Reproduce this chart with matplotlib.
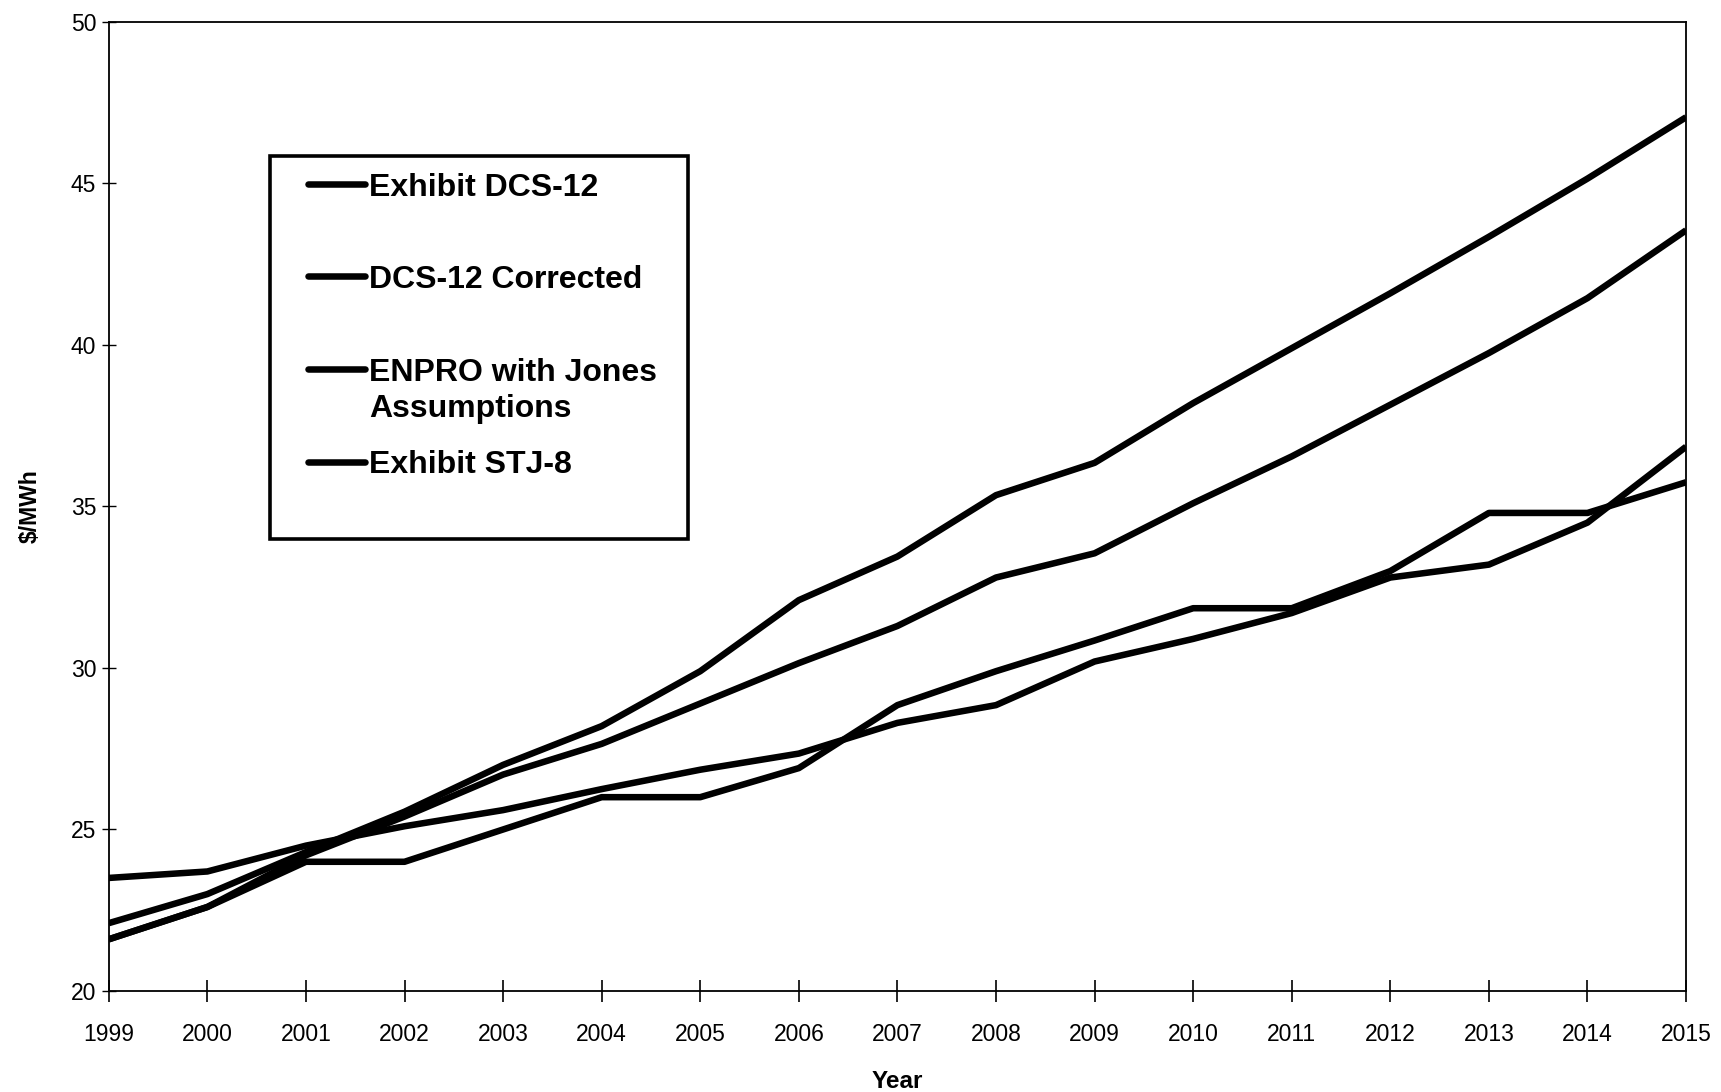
import matplotlib
matplotlib.use("Agg")
import matplotlib.pyplot as plt
from matplotlib.lines import Line2D
from matplotlib.patches import Rectangle

plt.rcParams['font.family'] = ['Liberation Sans', 'DejaVu Sans']

# Annual wholesale price forecasts, $/MWh
years = list(range(1999, 2016))
exhibit_dcs12 = [22.1, 23.0, 24.3, 25.55, 27.0, 28.2, 29.9, 32.1, 33.45, 35.35,
                 36.35, 38.2, 39.9, 41.6, 43.35, 45.15, 47.05]
dcs12_corrected = [21.6, 22.6, 24.2, 25.4, 26.7, 27.65, 28.9, 30.15, 31.3, 32.8,
                   33.55, 35.1, 36.55, 38.15, 39.75, 41.45, 43.55]
enpro_jones = [23.5, 23.7, 24.5, 25.1, 25.6, 26.25, 26.85, 27.35, 28.3, 28.85,
               30.2, 30.9, 31.7, 32.8, 33.2, 34.5, 36.85]
exhibit_stj8 = [21.6, 22.6, 24.0, 24.0, 25.0, 26.0, 26.0, 26.9, 28.85, 29.9,
                30.85, 31.85, 31.85, 33.0, 34.8, 34.8, 35.75]

series_labels = ["Exhibit DCS-12", "DCS-12 Corrected",
                 "ENPRO with Jones\nAssumptions", "Exhibit STJ-8"]
series_values = [exhibit_dcs12, dcs12_corrected, enpro_jones, exhibit_stj8]

fig = plt.figure(figsize=(17.21, 10.92), dpi=100)
ax = fig.add_axes([0.0632, 0.0925, 0.9165, 0.8874])

line_w = 4.7
for vals in series_values:
    ax.plot(years, vals, color='black', linewidth=line_w,
            solid_joinstyle='round', solid_capstyle='butt', zorder=3)

ax.set_xlim(1999, 2015)
ax.set_ylim(20, 50)
ax.set_xticks(years)
ax.set_xticklabels([str(y) for y in years])
ax.set_yticks([20, 25, 30, 35, 40, 45, 50])

for side in ['left', 'right', 'top', 'bottom']:
    ax.spines[side].set_linewidth(1.3)
    ax.spines[side].set_color('black')

ax.tick_params(axis='x', direction='inout', length=16, width=1.2,
               labelsize=16.5, pad=15)
ax.tick_params(axis='y', direction='inout', length=10, width=1.0,
               labelsize=16.5, pad=4)

ax.set_xlabel("Year", fontsize=17.5, fontweight='bold', labelpad=17)
ax.set_ylabel("$/MWh", fontsize=16.5, fontweight='bold', labelpad=21)

# Legend box drawn in axes coordinates
box = Rectangle((0.1023, 0.4665), 0.2650, 0.3952, transform=ax.transAxes,
                facecolor='white', edgecolor='black', linewidth=2.6, zorder=4)
ax.add_patch(box)

entry_y = [0.829, 0.7338, 0.6376, 0.5424]
for label, yy in zip(series_labels, entry_y):
    ax.add_line(Line2D([0.1265, 0.1627], [yy + 0.004, yy + 0.004],
                       transform=ax.transAxes, color='black', linewidth=line_w,
                       solid_capstyle='round', zorder=5))
    first, *rest = label.split('\n')
    ax.text(0.1652, yy, first, transform=ax.transAxes, fontsize=23,
            fontweight='bold', va='center', ha='left', zorder=5)
    for k, extra in enumerate(rest, start=1):
        ax.text(0.1652, yy - 0.0373 * k, extra, transform=ax.transAxes,
                fontsize=23, fontweight='bold', va='center', ha='left', zorder=5)

fig.savefig("out.png", dpi=100, facecolor='white')
